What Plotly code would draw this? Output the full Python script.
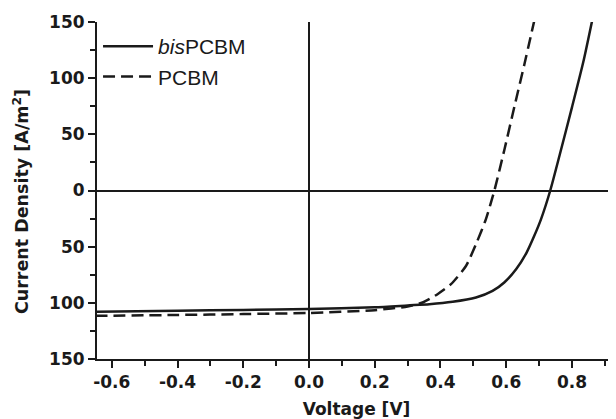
import plotly.graph_objects as go

# bisPCBM (solid) J-V curve
bis_v = [-0.65, -0.4, -0.2, 0.0, 0.2, 0.3, 0.366, 0.437, 0.508, 0.5585, 0.594, 0.630,
         0.662, 0.685, 0.7057, 0.734, 0.763, 0.80, 0.835, 0.862]
bis_j = [-108, -107, -106.3, -105.6, -104, -102.3, -101.2, -99.1, -95.3, -89.4, -81.9,
         -70.1, -55.3, -40.6, -25.7, 0, 32, 74, 115, 152]

# PCBM (dashed) J-V curve
pcbm_v = [-0.65, -0.4, -0.2, 0.0, 0.2, 0.25, 0.3, 0.3455, 0.391, 0.432, 0.4775, 0.51,
          0.538, 0.564, 0.595, 0.625, 0.655, 0.686]
pcbm_j = [-111.6, -110.8, -110, -109, -106.5, -105, -103.3, -99.7, -92.3, -83.4, -67.2,
          -46.4, -25.7, 0, 37, 74.8, 112, 152]

x_tickvals = [-0.6, -0.4, -0.2, 0.0, 0.2, 0.4, 0.6, 0.8]
x_ticktext = ["-0.6", "-0.4", "-0.2", "0.0", "0.2", "0.4", "0.6", "0.8"]
y_tickvals = [-150, -100, -50, 0, 50, 100, 150]
y_ticktext = ["150", "100", "50", "0", "50", "100", "150"]

XR = [-0.645, 0.934]
YR = [-150, 150]

INK = "#1a1a1a"

fig = go.Figure()
fig.add_trace(go.Scatter(x=bis_v, y=bis_j, mode="lines", name="<i>bis</i>PCBM",
                         line=dict(color=INK, width=2.5, shape="spline", smoothing=0.6),
                         legendgroup="a"))
fig.add_trace(go.Scatter(x=pcbm_v, y=pcbm_j, mode="lines", name="PCBM",
                         line=dict(color=INK, width=2.5, dash="12px,6px",
                                   shape="spline", smoothing=0.6),
                         legendgroup="b"))

tickfont = dict(family="DejaVu Sans", size=17, color=INK, weight="bold")
titlefont = dict(family="DejaVu Sans", size=17, color=INK, weight="bold")

# the page body adds an 8px offset, so the figure is 8px smaller than the window
fig.update_layout(
    width=608, height=411,
    margin=dict(l=89, r=0, t=14, b=60),
    plot_bgcolor="white", paper_bgcolor="white",
    showlegend=True,
    legend=dict(x=0.002, y=0.988, xanchor="left", yanchor="top", itemwidth=50,
                font=dict(family="Liberation Sans", size=21, color=INK),
                bgcolor="rgba(0,0,0,0)", traceorder="grouped", tracegroupgap=0),
    xaxis=dict(range=XR, tickvals=x_tickvals, ticktext=x_ticktext, tickfont=tickfont,
               title=dict(text="Voltage [V]", font=titlefont), automargin=False,
               showline=True, linecolor=INK, linewidth=2,
               ticks="outside", ticklen=7, tickwidth=2, tickcolor=INK,
               minor=dict(dtick=0.1, tick0=0, ticks="outside", ticklen=5, tickwidth=2,
                          tickcolor=INK, showgrid=False),
               showgrid=False, zeroline=True, zerolinecolor=INK, zerolinewidth=1.5),
    yaxis=dict(range=YR, tickvals=y_tickvals, ticktext=y_ticktext, tickfont=tickfont,
               automargin=False,
               showline=True, linecolor=INK, linewidth=2,
               ticks="outside", ticklen=7, tickwidth=2, tickcolor=INK,
               minor=dict(dtick=25, tick0=0, ticks="outside", ticklen=5, tickwidth=2,
                          tickcolor=INK, showgrid=False),
               showgrid=False, zeroline=True, zerolinecolor=INK, zerolinewidth=1.5),
    xaxis2=dict(range=XR, overlaying="x", side="top", anchor="y", showticklabels=False,
                tickvals=x_tickvals, showline=True, linecolor=INK, linewidth=2,
                automargin=False,
                ticks="inside", ticklen=5, tickwidth=2, tickcolor=INK,
                minor=dict(dtick=0.1, tick0=0, ticks="inside", ticklen=3, tickwidth=2,
                           tickcolor=INK, showgrid=False),
                showgrid=False, zeroline=False),
    yaxis2=dict(range=YR, overlaying="y", side="right", anchor="x", showticklabels=False,
                tickvals=y_tickvals, showline=False, automargin=False,
                ticks="inside", ticklen=5, tickwidth=2, tickcolor=INK,
                minor=dict(dtick=25, tick0=0, ticks="inside", ticklen=3, tickwidth=2,
                           tickcolor=INK, showgrid=False),
                showgrid=False, zeroline=False),
    annotations=[dict(text="Current Density [A/m<sup>2</sup>]", textangle=-90,
                      xref="paper", yref="paper", x=-0.1474, y=0.467,
                      xanchor="center", yanchor="middle", showarrow=False,
                      font=dict(family="DejaVu Sans", size=17.5, color=INK, weight="bold"))],
)

fig.write_html("out.html")
